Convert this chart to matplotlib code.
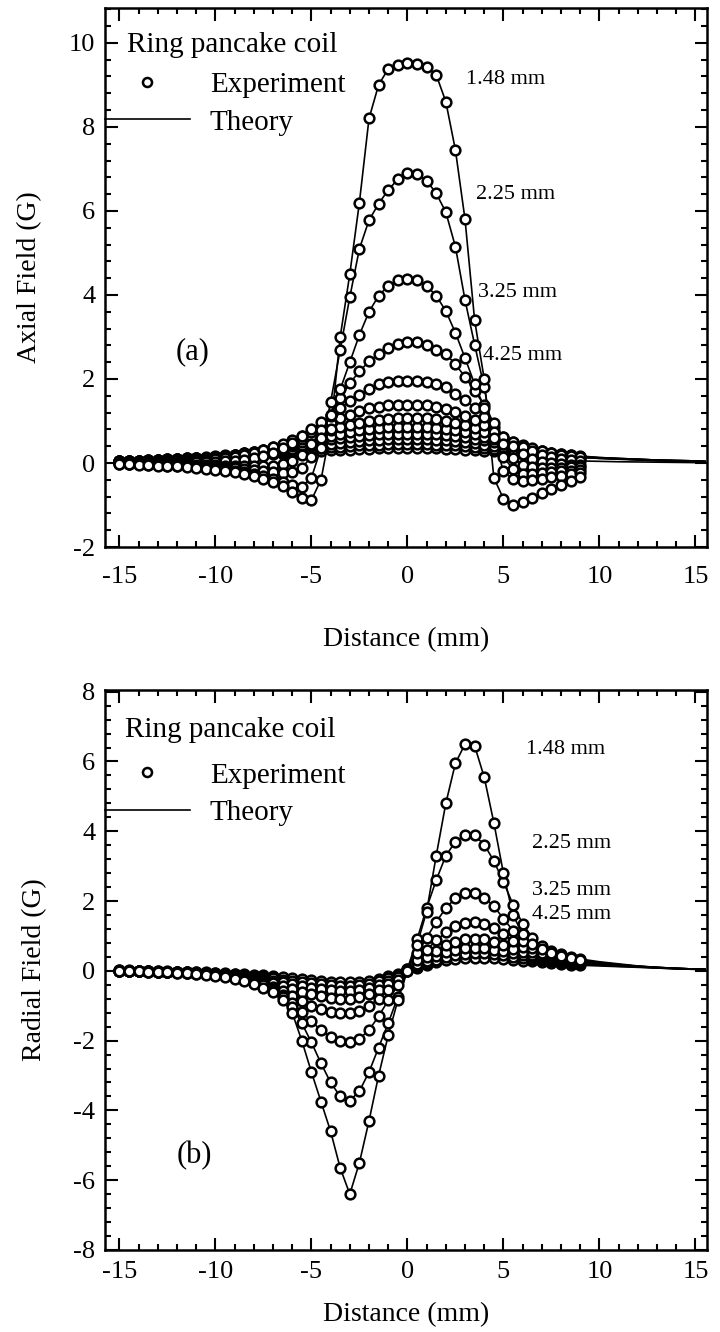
import matplotlib
matplotlib.use('Agg')
import matplotlib.pyplot as plt
from matplotlib.lines import Line2D
from matplotlib.ticker import MultipleLocator

plt.rcParams['font.family'] = ['Liberation Serif', 'DejaVu Serif']
plt.rcParams['axes.unicode_minus'] = False

# ---------------- data ----------------
distance_mm = [-15.0, -14.5, -14.0, -13.5, -13.0, -12.5, -12.0, -11.5, -11.0, -10.5,
               -10.0, -9.5, -9.0, -8.5, -8.0, -7.5, -7.0, -6.5, -6.0, -5.5,
               -5.0, -4.5, -4.0, -3.5, -3.0, -2.5, -2.0, -1.5, -1.0, -0.5,
               0.0, 0.5, 1.0, 1.5, 2.0, 2.5, 3.0, 3.5, 4.0, 4.5,
               5.0, 5.5, 6.0, 6.5, 7.0, 7.5, 8.0, 8.5, 9.0]
tail_mm = [9.5, 10.0, 11.0, 12.0, 13.0, 14.0, 15.0, 15.5]

# Axial field (G), panel (a)
axial_148 = [-0.03, -0.03, -0.04, -0.05, -0.06, -0.07, -0.08, -0.10, -0.12, -0.14,
             -0.16, -0.19, -0.22, -0.26, -0.31, -0.37, -0.45, -0.55, -0.68, -0.84,
             -0.88, -0.40, 0.80, 3.00, 4.50, 6.20, 8.20, 9.00, 9.38, 9.48,
             9.52, 9.50, 9.42, 9.24, 8.60, 7.45, 5.80, 3.40, 2.00, -0.35,
             -0.85, -1.00, -0.93, -0.83, -0.72, -0.62, -0.52, -0.42, -0.33]
axial_225 = [-0.02, -0.03, -0.03, -0.04, -0.05, -0.06, -0.07, -0.08, -0.10, -0.12,
             -0.14, -0.16, -0.19, -0.22, -0.26, -0.31, -0.37, -0.45, -0.53, -0.56,
             -0.35, 0.35, 1.45, 2.70, 3.95, 5.10, 5.78, 6.17, 6.50, 6.75,
             6.90, 6.88, 6.72, 6.42, 5.97, 5.15, 3.88, 2.82, 1.80, 0.60,
             -0.20, -0.38, -0.42, -0.40, -0.37, -0.33, -0.30, -0.27, -0.24]
axial_325 = [-0.01, -0.02, -0.02, -0.03, -0.03, -0.04, -0.05, -0.06, -0.07, -0.08,
             -0.10, -0.11, -0.13, -0.15, -0.17, -0.20, -0.22, -0.24, -0.22, -0.12,
             0.15, 0.60, 1.15, 1.75, 2.40, 3.05, 3.60, 3.98, 4.22, 4.35,
             4.38, 4.36, 4.22, 3.98, 3.62, 3.10, 2.50, 1.88, 1.32, 0.75,
             0.15, -0.15, -0.25, -0.25, -0.24, -0.22, -0.20, -0.18, -0.16]
axial_425 = [0.00, 0.00, -0.01, -0.01, -0.02, -0.02, -0.03, -0.03, -0.04, -0.05,
             -0.05, -0.06, -0.06, -0.07, -0.07, -0.07, -0.06, -0.03, 0.05, 0.20,
             0.45, 0.78, 1.14, 1.54, 1.90, 2.18, 2.42, 2.60, 2.74, 2.84,
             2.88, 2.87, 2.80, 2.70, 2.60, 2.35, 2.05, 1.72, 1.38, 0.95,
             0.45, 0.12, -0.05, -0.10, -0.12, -0.12, -0.11, -0.10, -0.09]
axial_525 = [0.02, 0.02, 0.02, 0.02, 0.02, 0.02, 0.02, 0.02, 0.02, 0.02,
             0.03, 0.04, 0.06, 0.08, 0.12, 0.17, 0.25, 0.35, 0.48, 0.64,
             0.80, 0.97, 1.12, 1.30, 1.48, 1.62, 1.77, 1.87, 1.92, 1.95,
             1.96, 1.95, 1.92, 1.87, 1.80, 1.65, 1.50, 1.32, 1.10, 0.86,
             0.62, 0.40, 0.22, 0.10, 0.03, -0.01, -0.03, -0.04, -0.05]
axial_625 = [0.03, 0.03, 0.03, 0.04, 0.04, 0.05, 0.05, 0.06, 0.07, 0.08,
             0.10, 0.12, 0.15, 0.19, 0.24, 0.30, 0.37, 0.45, 0.54, 0.64,
             0.75, 0.86, 0.96, 1.06, 1.15, 1.23, 1.30, 1.34, 1.37, 1.38,
             1.39, 1.38, 1.37, 1.34, 1.29, 1.22, 1.13, 1.02, 0.90, 0.77,
             0.63, 0.50, 0.38, 0.28, 0.20, 0.14, 0.10, 0.07, 0.05]
axial_725 = [0.04, 0.04, 0.05, 0.05, 0.06, 0.07, 0.08, 0.09, 0.10, 0.12,
             0.14, 0.16, 0.19, 0.23, 0.27, 0.32, 0.38, 0.44, 0.50, 0.57,
             0.64, 0.71, 0.78, 0.85, 0.91, 0.96, 1.00, 1.03, 1.05, 1.06,
             1.07, 1.07, 1.06, 1.04, 1.00, 0.96, 0.90, 0.83, 0.75, 0.67,
             0.58, 0.50, 0.42, 0.35, 0.29, 0.24, 0.20, 0.17, 0.14]
axial_825 = [0.05, 0.05, 0.06, 0.06, 0.07, 0.08, 0.09, 0.10, 0.11, 0.13,
             0.15, 0.17, 0.20, 0.23, 0.27, 0.31, 0.35, 0.40, 0.45, 0.50,
             0.55, 0.60, 0.65, 0.70, 0.74, 0.78, 0.81, 0.83, 0.85, 0.86,
             0.86, 0.86, 0.85, 0.84, 0.81, 0.78, 0.74, 0.69, 0.63, 0.57,
             0.51, 0.45, 0.39, 0.34, 0.29, 0.25, 0.21, 0.18, 0.15]
axial_925 = [0.05, 0.06, 0.06, 0.07, 0.08, 0.09, 0.10, 0.11, 0.12, 0.14,
             0.16, 0.18, 0.20, 0.23, 0.26, 0.29, 0.32, 0.36, 0.40, 0.44,
             0.48, 0.52, 0.56, 0.59, 0.62, 0.65, 0.67, 0.68, 0.69, 0.70,
             0.70, 0.70, 0.69, 0.68, 0.67, 0.65, 0.62, 0.58, 0.54, 0.50,
             0.45, 0.41, 0.36, 0.32, 0.28, 0.25, 0.21, 0.18, 0.16]
axial_1025 = [0.05, 0.06, 0.06, 0.07, 0.08, 0.09, 0.10, 0.11, 0.12, 0.13,
              0.15, 0.17, 0.19, 0.21, 0.23, 0.26, 0.28, 0.31, 0.34, 0.37,
              0.40, 0.43, 0.46, 0.48, 0.50, 0.52, 0.54, 0.55, 0.56, 0.56,
              0.56, 0.56, 0.56, 0.55, 0.54, 0.52, 0.50, 0.47, 0.44, 0.41,
              0.38, 0.34, 0.31, 0.28, 0.25, 0.22, 0.19, 0.17, 0.15]
axial_1125 = [0.05, 0.06, 0.06, 0.07, 0.08, 0.09, 0.10, 0.11, 0.12, 0.13,
              0.14, 0.16, 0.17, 0.19, 0.21, 0.23, 0.25, 0.27, 0.29, 0.31,
              0.33, 0.35, 0.37, 0.39, 0.41, 0.42, 0.43, 0.44, 0.45, 0.45,
              0.45, 0.45, 0.45, 0.44, 0.43, 0.42, 0.40, 0.38, 0.36, 0.34,
              0.31, 0.29, 0.27, 0.24, 0.22, 0.20, 0.18, 0.16, 0.14]
axial_1225 = [0.05, 0.05, 0.06, 0.06, 0.07, 0.08, 0.09, 0.10, 0.11, 0.12,
              0.13, 0.14, 0.15, 0.16, 0.18, 0.19, 0.21, 0.22, 0.24, 0.25,
              0.27, 0.28, 0.30, 0.31, 0.32, 0.33, 0.34, 0.35, 0.36, 0.36,
              0.36, 0.36, 0.36, 0.35, 0.34, 0.33, 0.32, 0.31, 0.29, 0.28,
              0.26, 0.24, 0.22, 0.20, 0.19, 0.17, 0.15, 0.14, 0.13]

# theory tails beyond the measured range (None = theory stops with data)
axial_tail_625 = [0.045, 0.04, 0.03, 0.025, 0.02, 0.015, 0.01, 0.01]
axial_tail_725 = [0.13, 0.11, 0.09, 0.07, 0.05, 0.04, 0.03, 0.02]
axial_tail_825 = [0.14, 0.12, 0.10, 0.08, 0.06, 0.05, 0.04, 0.03]
axial_tail_925 = [0.15, 0.13, 0.11, 0.09, 0.07, 0.05, 0.04, 0.03]
axial_tail_1025 = [0.14, 0.13, 0.11, 0.09, 0.07, 0.06, 0.05, 0.04]
axial_tail_1125 = [0.13, 0.12, 0.10, 0.09, 0.07, 0.06, 0.05, 0.04]
axial_tail_1225 = [0.12, 0.11, 0.10, 0.08, 0.07, 0.06, 0.05, 0.04]

# Radial field (G), panel (b)
radial_148 = [0.00, -0.01, -0.01, -0.02, -0.03, -0.04, -0.05, -0.07, -0.09, -0.12,
              -0.15, -0.19, -0.24, -0.30, -0.38, -0.48, -0.62, -0.85, -1.20, -2.00,
              -2.90, -3.75, -4.60, -5.65, -6.40, -5.50, -4.30, -3.00, -1.85, -0.85,
              0.00, 0.75, 1.70, 3.30, 4.80, 5.95, 6.50, 6.45, 5.55, 4.25,
              2.80, 1.60, 1.05, 0.78, 0.62, 0.50, 0.42, 0.36, 0.31]
radial_225 = [0.00, -0.01, -0.01, -0.02, -0.03, -0.04, -0.05, -0.06, -0.08, -0.10,
              -0.13, -0.16, -0.20, -0.25, -0.32, -0.41, -0.55, -0.75, -1.05, -1.50,
              -2.05, -2.65, -3.20, -3.60, -3.72, -3.45, -2.90, -2.20, -1.50, -0.75,
              0.05, 0.90, 1.80, 2.60, 3.30, 3.70, 3.90, 3.88, 3.62, 3.15,
              2.55, 1.90, 1.35, 0.95, 0.72, 0.58, 0.48, 0.40, 0.34]
radial_325 = [0.00, -0.01, -0.01, -0.02, -0.02, -0.03, -0.04, -0.05, -0.07, -0.09,
              -0.11, -0.14, -0.18, -0.23, -0.30, -0.40, -0.53, -0.70, -0.92, -1.18,
              -1.45, -1.70, -1.90, -2.02, -2.05, -1.95, -1.70, -1.30, -0.85, -0.40,
              0.05, 0.50, 0.95, 1.40, 1.80, 2.08, 2.22, 2.22, 2.10, 1.85,
              1.50, 1.15, 0.85, 0.65, 0.52, 0.44, 0.38, 0.33, 0.29]
radial_425 = [0.00, 0.00, -0.01, -0.01, -0.02, -0.03, -0.04, -0.05, -0.06, -0.08,
              -0.10, -0.13, -0.16, -0.21, -0.27, -0.35, -0.45, -0.57, -0.72, -0.86,
              -1.00, -1.10, -1.18, -1.22, -1.22, -1.15, -1.00, -0.80, -0.55, -0.27,
              0.02, 0.30, 0.60, 0.87, 1.10, 1.28, 1.38, 1.40, 1.35, 1.22,
              1.05, 0.85, 0.68, 0.55, 0.46, 0.40, 0.35, 0.30, 0.26]
radial_525 = [0.00, 0.00, -0.01, -0.01, -0.02, -0.02, -0.03, -0.04, -0.05, -0.07,
              -0.09, -0.11, -0.14, -0.18, -0.23, -0.29, -0.36, -0.44, -0.52, -0.60,
              -0.67, -0.73, -0.77, -0.80, -0.80, -0.76, -0.67, -0.54, -0.38, -0.19,
              0.01, 0.20, 0.40, 0.58, 0.73, 0.84, 0.90, 0.92, 0.90, 0.84,
              0.75, 0.64, 0.54, 0.46, 0.40, 0.35, 0.31, 0.27, 0.24]
radial_625 = [0.00, 0.00, -0.01, -0.01, -0.02, -0.02, -0.03, -0.04, -0.05, -0.06,
              -0.08, -0.10, -0.12, -0.15, -0.19, -0.23, -0.28, -0.33, -0.39, -0.44,
              -0.49, -0.53, -0.56, -0.58, -0.58, -0.55, -0.49, -0.40, -0.28, -0.14,
              0.01, 0.15, 0.29, 0.42, 0.53, 0.60, 0.65, 0.66, 0.65, 0.61,
              0.56, 0.50, 0.44, 0.39, 0.35, 0.31, 0.28, 0.25, 0.22]
radial_725 = [0.01, 0.00, 0.00, -0.01, -0.01, -0.02, -0.03, -0.03, -0.04, -0.05,
              -0.07, -0.08, -0.10, -0.12, -0.15, -0.18, -0.21, -0.25, -0.29, -0.33,
              -0.36, -0.39, -0.41, -0.43, -0.43, -0.41, -0.37, -0.30, -0.21, -0.11,
              0.00, 0.11, 0.22, 0.32, 0.40, 0.46, 0.49, 0.50, 0.50, 0.48,
              0.45, 0.41, 0.37, 0.33, 0.30, 0.27, 0.24, 0.22, 0.20]
radial_825 = [0.01, 0.01, 0.00, 0.00, -0.01, -0.01, -0.02, -0.02, -0.03, -0.04,
              -0.05, -0.06, -0.08, -0.09, -0.11, -0.13, -0.16, -0.18, -0.21, -0.24,
              -0.26, -0.29, -0.31, -0.32, -0.33, -0.31, -0.28, -0.23, -0.16, -0.08,
              0.00, 0.08, 0.16, 0.24, 0.30, 0.35, 0.37, 0.38, 0.38, 0.37,
              0.35, 0.32, 0.29, 0.27, 0.24, 0.22, 0.20, 0.18, 0.16]

radial_tail_148 = [0.27, 0.24, 0.18, 0.13, 0.09, 0.06, 0.04, 0.03]
radial_tail_225 = [0.30, 0.26, 0.20, 0.14, 0.10, 0.07, 0.05, 0.04]
radial_tail_325 = [0.26, 0.23, 0.18, 0.13, 0.10, 0.07, 0.05, 0.04]
radial_tail_425 = [0.23, 0.21, 0.17, 0.13, 0.10, 0.07, 0.05, 0.04]
radial_tail_525 = [0.21, 0.19, 0.16, 0.12, 0.09, 0.07, 0.05, 0.04]
radial_tail_625 = [0.20, 0.18, 0.15, 0.12, 0.09, 0.07, 0.05, 0.04]
radial_tail_725 = [0.18, 0.16, 0.13, 0.11, 0.08, 0.06, 0.05, 0.04]
radial_tail_825 = [0.15, 0.14, 0.12, 0.10, 0.08, 0.06, 0.05, 0.04]

height_labels = ["1.48 mm", "2.25 mm", "3.25 mm", "4.25 mm"]
x_ticks = [-15, -10, -5, 0, 5, 10, 15]

axial_series = [axial_148, axial_225, axial_325, axial_425, axial_525, axial_625,
                axial_725, axial_825, axial_925, axial_1025, axial_1125, axial_1225]
axial_tails = [None, None, None, None, None, axial_tail_625, axial_tail_725,
               axial_tail_825, axial_tail_925, axial_tail_1025, axial_tail_1125,
               axial_tail_1225]
radial_series = [radial_148, radial_225, radial_325, radial_425, radial_525,
                 radial_625, radial_725, radial_825]
radial_tails = [radial_tail_148, radial_tail_225, radial_tail_325, radial_tail_425,
                radial_tail_525, radial_tail_625, radial_tail_725, radial_tail_825]

# ---------------- figure ----------------
fig = plt.figure(figsize=(7.2, 13.32), dpi=100)
ax1 = fig.add_axes([0.1458, 0.5893, 0.8361, 0.4047])
ax2 = fig.add_axes([0.1458, 0.0616, 0.8361, 0.4204])

MS, MEW, LW = 7.0, 1.8, 1.2


def draw(ax, series, tails):
    for y, tail in zip(series, tails):
        xs = distance_mm + (tail_mm if tail else [])
        ys = y + (tail if tail else [])
        ax.plot(xs, ys, color='black', lw=LW, zorder=2)
    for y in series[::-1]:
        ax.plot(distance_mm, y, ls='none', marker='o', ms=MS, mfc='white',
                mec='black', mew=MEW, zorder=3)


def style(ax, ylim, ylabel, xpad, xlabelpad):
    ax.set_xlim(-15.75, 15.6)
    ax.set_ylim(*ylim)
    ax.set_xticks(x_ticks)
    ax.xaxis.set_minor_locator(MultipleLocator(1))
    ax.yaxis.set_major_locator(MultipleLocator(2))
    ax.yaxis.set_minor_locator(MultipleLocator(0.4))
    ax.tick_params(which='both', direction='in', top=True, right=True,
                   width=1.5, labelsize=19)
    ax.tick_params(which='major', length=9)
    ax.tick_params(which='minor', length=4.5)
    ax.tick_params(axis='x', pad=xpad)
    ax.tick_params(axis='y', pad=7)
    for s in ax.spines.values():
        s.set_linewidth(1.8)
    ax.set_xlabel('Distance (mm)', fontsize=20, labelpad=xlabelpad)
    ax.set_ylabel(ylabel, fontsize=20, labelpad=19)


def legend(ax, y_anchor, title_xy):
    ax.text(title_xy[0], title_xy[1], 'Ring pancake coil', fontsize=21,
            va='center', ha='left')
    handles = [Line2D([], [], ls='none', marker='o', ms=6.5, mfc='white',
                      mec='black', mew=1.8),
               Line2D([], [], color='black', lw=1.2)]
    ax.legend(handles, ['Experiment', 'Theory'], loc='upper left',
              bbox_to_anchor=(0.0, y_anchor), frameon=False, fontsize=21,
              borderaxespad=0, borderpad=0, handlelength=2.9,
              handletextpad=0.7, labelspacing=0.38)


draw(ax1, axial_series, axial_tails)
style(ax1, (-2, 10.83), 'Axial Field (G)', 14, 28)
legend(ax1, 0.882, (-14.6, 9.95))
for (lx, ly), lab in zip([(3.06, 9.12), (3.58, 6.39), (3.66, 4.07), (3.92, 2.57)],
                         height_labels):
    ax1.text(lx, ly, lab, fontsize=16, va='center', ha='left')
ax1.text(-11.2, 2.65, '(a)', fontsize=22, va='center', ha='center')

draw(ax2, radial_series, radial_tails)
style(ax2, (-8, 8.05), 'Radial Field (G)', 8, 14)
legend(ax2, 0.871, (-14.7, 6.9))
for (lx, ly), lab in zip([(6.2, 6.35), (6.5, 3.65), (6.5, 2.3), (6.5, 1.62)],
                         height_labels):
    ax2.text(lx, ly, lab, fontsize=16, va='center', ha='left')
ax2.text(-11.1, -5.3, '(b)', fontsize=22, va='center', ha='center')

fig.savefig('out.png', dpi=100)
